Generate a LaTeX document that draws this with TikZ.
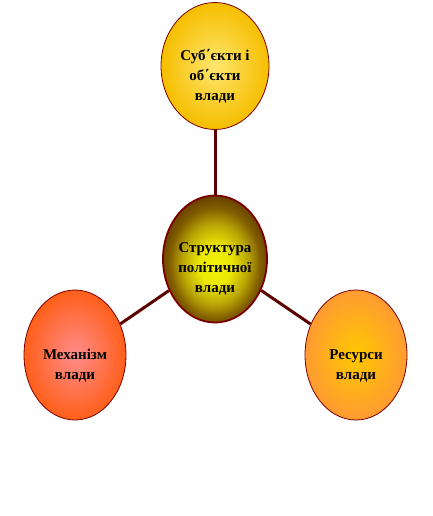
\documentclass[tikz,border=0pt]{standalone}
\usepackage{fontspec}
\setmainfont{Liberation Serif}
\usetikzlibrary{shapes.geometric}
\definecolor{linkred}{HTML}{5C0000}
\definecolor{rimred}{HTML}{7A0000}
\pgfdeclareradialshading{coreglow}{\pgfpoint{0bp}{-3bp}}{%
  rgb(0bp)=(0.96,0.96,0.05);
  rgb(8bp)=(0.92,0.90,0.02);
  rgb(16bp)=(0.72,0.64,0.02);
  rgb(22bp)=(0.50,0.36,0.0);
  rgb(27bp)=(0.40,0.24,0.0);
  rgb(50bp)=(0.40,0.24,0.0)}
\tikzset{
  blob/.style={ellipse, draw=rimred, line width=0.8pt, inner sep=0pt},
  lbl/.style={align=center, font=\fontsize{15}{20}\selectfont\bfseries, text=black, inner sep=0pt},
  link/.style={draw=linkred, line width=3pt}
}
\begin{document}
\begin{tikzpicture}[x=1pt,y=-1pt]
\useasboundingbox (0,0) rectangle (432,516);
% ellipses
\node[blob, minimum width=108pt, minimum height=127pt,
      inner color={rgb,255:red,255;green,230;blue,110}, outer color={rgb,255:red,245;green,190;blue,0}] (t) at (215,66) {};
\node[blob, draw=rimred, line width=1.8pt, minimum width=104pt, minimum height=127pt,
      shading=coreglow] (c) at (215,259) {};
\node[blob, minimum width=102pt, minimum height=130pt,
      inner color={rgb,255:red,255;green,140;blue,140}, outer color={rgb,255:red,255;green,95;blue,25}] (l) at (75,355) {};
\node[blob, minimum width=102pt, minimum height=130pt,
      inner color={rgb,255:red,255;green,200;blue,0}, outer color={rgb,255:red,255;green,155;blue,50}] (r) at (356,355) {};
% connectors
\draw[link] (c.north) -- (t.south);
\draw[link] (c) -- (l);
\draw[link] (c) -- (r);
% labels
\node[lbl] (tl) at (215,76) {Суб΄єкти і\\об΄єкти\\влади};
\node[lbl] (cl) at (215,269) {Структура\\політичної\\влади};
\node[lbl] (ll) at (75,366) {Механізм\\влади};
\node[lbl] (rl) at (356,366) {Ресурси\\влади};
\end{tikzpicture}
\end{document}
